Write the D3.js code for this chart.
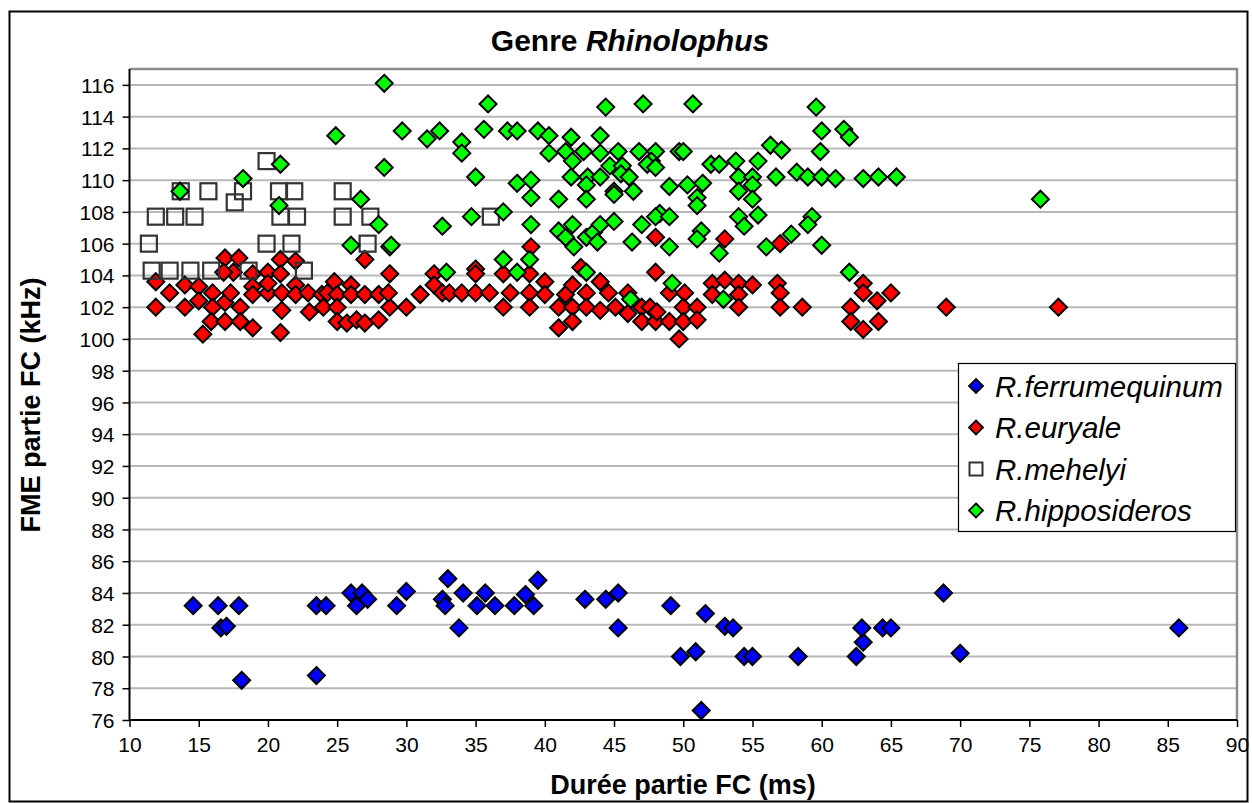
<!DOCTYPE html>
<html><head><meta charset="utf-8">
<script src="https://cdn.jsdelivr.net/npm/d3@7"></script>
<style>
body{margin:0;background:#fff}
svg{display:block}
text{font-family:"Liberation Sans",Arial,Helvetica,sans-serif}
</style>
</head><body>
<svg id="chart" width="1252" height="803"></svg>
<script>
// ---- data (x = Durée partie FC (ms), y = FME partie FC (kHz)) ----
const xTicks = [10,15,20,25,30,35,40,45,50,55,60,65,70,75,80,85,90];
const yTicks = [76,78,80,82,84,86,88,90,92,94,96,98,100,102,104,106,108,110,112,114,116];
const seriesNames = ["R.ferrumequinum","R.euryale","R.mehelyi","R.hipposideros"];

const ferrumequinum = [
 [14.6,83.2],[16.4,83.2],[16.6,81.8],[17.0,81.9],[17.9,83.2],[18.1,78.5],
 [23.5,83.2],[23.5,78.8],[24.2,83.2],[26.0,84.0],[26.4,83.2],[26.8,84.0],[27.2,83.6],
 [29.3,83.2],[30.0,84.1],[32.6,83.6],[32.8,83.2],[33.0,84.9],[33.8,81.8],[34.1,84.0],
 [35.1,83.2],[35.7,84.0],[36.4,83.2],[37.8,83.2],[38.6,83.9],[39.2,83.2],[39.5,84.8],
 [42.9,83.6],[44.4,83.6],[45.3,84.0],[45.3,81.8],
 [49.1,83.2],[49.8,80.0],[50.9,80.3],[51.6,82.7],[51.3,76.6],[53.0,81.9],[53.6,81.8],
 [54.4,80.0],[55.0,80.0],[58.3,80.0],[62.5,80.0],[63.0,80.9],[62.9,81.8],[64.4,81.8],
 [65.0,81.8],[68.8,84.0],[70.0,80.2],[85.8,81.8]
];

const euryale = [
 [16.9,105.1],[17.9,105.1],[17.5,104.2],[16.8,104.2],[18.9,104.1],[20.0,104.2],[20.9,105.0],
 [20.9,104.1],[22.0,104.9],[27.0,105.0],
 [11.9,103.6],[11.9,102.0],[12.9,102.9],[14.0,103.4],[14.0,102.0],[15.0,103.3],[15.0,102.4],
 [15.3,100.3],[16.0,102.9],[16.0,102.0],[15.9,101.1],[16.9,102.3],[17.3,102.9],[16.9,101.1],
 [18.0,102.0],[18.0,101.1],[18.9,100.7],[18.9,103.3],[18.9,102.8],[20.0,102.9],[20.0,103.5],
 [21.0,102.9],[21.0,101.8],[20.9,100.4],[22.0,103.4],[22.0,102.8],[22.9,102.9],[23.0,101.7],
 [23.9,102.8],[24.0,102.0],[24.3,102.9],[24.8,103.6],[25.0,102.8],[25.0,102.0],[25.0,101.1],
 [25.7,101.0],[26.0,103.4],[26.0,102.8],[26.4,101.2],[27.0,101.0],[27.0,102.8],[28.0,101.2],
 [28.0,102.8],[28.8,102.0],[28.7,102.9],[28.8,104.1],
 [30.0,102.0],[31.0,102.8],[32.0,104.1],[32.0,103.4],[32.6,102.9],[33.1,102.9],[34.0,102.9],
 [35.0,104.4],[35.0,104.1],[35.0,102.9],[36.0,102.9],[37.0,104.1],[37.5,102.9],[37.0,102.0],
 [38.9,104.1],[38.9,102.9],[38.9,102.0],[39.0,105.8],[40.0,103.6],[40.0,102.8],[41.0,102.0],
 [41.0,100.7],[41.5,102.8],[42.0,103.4],[42.0,102.0],[42.0,101.1],[42.6,104.5],[43.0,102.9],
 [43.0,102.0],[44.0,103.6],[44.0,101.8],[44.6,102.9],[45.1,102.0],[46.0,102.9],[46.0,101.6],
 [47.0,102.0],[47.0,101.1],[47.6,102.0],[48.0,101.1],[48.0,104.2],[48.0,106.4],[48.1,101.7],
 [49.0,101.1],[49.0,102.9],[49.7,100.0],
 [50.1,102.9],[50.0,102.0],[50.0,101.1],[51.0,102.0],[51.0,101.2],[52.1,103.5],[52.1,102.8],
 [53.0,103.7],[53.0,106.3],[54.0,103.5],[54.0,102.8],[54.0,102.0],[55.0,103.4],[56.8,103.5],
 [57.0,102.9],[57.0,102.0],[57.0,106.0],[58.6,102.0],[62.1,102.0],[62.1,101.1],[63.0,103.5],
 [63.0,102.9],[63.0,100.6],[64.0,102.4],[64.1,101.1],[65.0,102.9],[69.0,102.0],[77.1,102.0]
];

const mehelyi = [
 [11.4,106.0],[11.6,104.3],[11.9,107.7],[12.9,104.3],[13.3,107.7],[13.7,109.3],[14.4,104.3],
 [14.7,107.7],[15.7,109.3],[15.9,104.3],[17.6,108.6],[18.2,109.3],[18.6,104.3],[19.9,111.2],
 [19.9,106.0],[20.8,109.3],[20.9,107.7],[21.9,109.3],[21.7,106.0],[22.1,107.7],[22.6,104.3],
 [25.4,109.3],[25.4,107.7],[27.4,107.7],[27.2,106.0],[36.1,107.7]
];

const hipposideros = [
 [13.65,109.3],[18.2,110.1],[20.9,111.0],[20.8,108.4],[24.9,112.8],[28.4,116.1],[28.4,110.8],
 [26.7,108.8],[28.0,107.2],[26.0,105.9],[28.8,105.8],
 [35.9,114.8],[44.4,114.6],[47.1,114.8],[29.7,113.1],[31.5,112.6],[32.4,113.1],[34.0,112.4],
 [34.0,111.7],[35.6,113.2],[37.3,113.1],[38.0,113.1],[39.5,113.1],[40.3,112.8],[40.3,111.7],
 [41.9,112.7],[41.5,111.8],[42.0,111.2],[42.8,111.8],[44.0,112.8],[44.0,111.7],[45.3,111.8],
 [46.8,111.8],[48.0,111.8],[47.7,111.2],[47.4,111.0],[48.0,110.8],[49.7,111.8],[44.7,110.9],
 [45.6,110.9],[45.5,110.4],[46.1,110.2],[41.9,110.2],[43.1,110.2],[44.0,110.2],[43.0,109.7],
 [35.0,110.2],[38.0,109.8],[39.0,110.0],[39.0,108.9],[41.0,108.8],[43.0,108.8],[45.0,109.3],
 [45.0,109.1],[46.4,109.3],[49.0,109.6],[34.7,107.7],[37.0,108.0],[32.6,107.1],[28.9,105.9],
 [39.0,107.2],[41.0,106.8],[42.0,107.2],[41.5,106.4],[42.1,105.8],[43.0,106.4],[43.5,106.7],
 [43.8,106.1],[44.0,107.2],[45.0,107.4],[46.3,106.1],[47.0,107.2],[48.3,107.9],[48.0,107.7],
 [49.0,105.8],[37.0,105.0],[38.9,105.0],[38.0,104.2],[32.9,104.2],[43.0,104.2],[49.2,103.5],
 [46.2,102.5],[52.9,102.5],[62.0,104.2],
 [50.7,114.8],[59.6,114.6],[60.0,113.1],[61.6,113.2],[62.0,112.7],[50.0,111.8],[56.3,112.2],
 [57.1,111.9],[59.9,111.8],[52.0,111.0],[52.6,111.0],[53.8,111.2],[55.4,111.2],[54.0,110.2],
 [55.0,110.2],[56.7,110.2],[58.2,110.5],[59.0,110.2],[60.0,110.2],[61.0,110.1],[63.0,110.1],
 [64.1,110.2],[65.4,110.2],[50.3,109.7],[51.4,109.8],[54.0,109.3],[55.0,109.7],[51.0,108.9],
 [51.0,108.4],[55.0,108.8],[49.0,107.7],[54.0,107.7],[54.4,107.1],[55.4,107.8],[59.3,107.7],
 [59.0,107.2],[51.3,106.8],[51.0,106.3],[52.6,105.4],[56.0,105.8],[57.8,106.6],[60.0,105.9],
 [75.8,108.8]
];

// ---- layout ----
const svg = d3.select("#chart");
const P = {left:129.5, right:1237, top:69, bottom:720};
const x = d3.scaleLinear().domain([10,90]).range([P.left, P.right]);
const y = d3.scaleLinear().domain([76,117]).range([P.bottom, P.top]);

// outer frame
svg.append("rect").attr("x",9.5).attr("y",11.5).attr("width",1238).attr("height",790)
  .attr("fill","#fff").attr("stroke","#000").attr("stroke-width",2);

// gridlines
svg.append("g").selectAll("line").data(yTicks.filter(d=>d>76)).join("line")
  .attr("x1",P.left).attr("x2",P.right).attr("y1",d=>y(d)).attr("y2",d=>y(d))
  .attr("stroke","#b8b8b8").attr("stroke-width",2);

// plot border (top/right)
svg.append("path").attr("d",`M${P.left},${P.top}H${P.right}V${P.bottom}`)
  .attr("fill","none").attr("stroke","#8c8c8c").attr("stroke-width",2.5);

// axes
const gx = svg.append("g").attr("transform",`translate(0,${P.bottom})`)
  .call(d3.axisBottom(x).tickValues(xTicks).tickSize(7).tickPadding(10).tickFormat(d3.format("d")));
const gy = svg.append("g").attr("transform",`translate(${P.left},0)`)
  .call(d3.axisLeft(y).tickValues(yTicks).tickSize(7).tickPadding(8).tickFormat(d3.format("d")));
[gx,gy].forEach(g=>{
  g.select(".domain").attr("stroke","#000").attr("stroke-width",2);
  g.selectAll(".tick line").attr("stroke","#000").attr("stroke-width",1.5);
  g.selectAll(".tick text").attr("fill","#000").style("font-size","21px")
    .style("font-family",'"Liberation Sans",Arial,sans-serif');
});
gx.select(".domain").attr("d",`M${P.left},0H${P.right}`);
gy.select(".domain").attr("d",`M0,${P.top}V${P.bottom}`);
gy.selectAll(".tick text").attr("dy","0.36em");

// markers
const diamond = (s)=>`M0,${-s}L${s},0L0,${s}L${-s},0Z`;
function drawDiamonds(data, color){
  svg.append("g").selectAll("path").data(data).join("path")
    .attr("transform",d=>`translate(${x(d[0])},${y(d[1])})`)
    .attr("d",diamond(8.5)).attr("fill",color).attr("stroke","#000").attr("stroke-width",2);
}
drawDiamonds(ferrumequinum,"#0000ff");
drawDiamonds(euryale,"#ff0000");
svg.append("g").selectAll("rect").data(mehelyi).join("rect")
  .attr("x",d=>x(d[0])-8).attr("y",d=>y(d[1])-8).attr("width",16).attr("height",16)
  .attr("fill","none").attr("stroke","#333").attr("stroke-width",2.2);
drawDiamonds(hipposideros,"#00ff00");

// title
const title = svg.append("text").attr("x",630).attr("y",51).attr("text-anchor","middle")
  .style("font-size","30px").style("font-weight","bold");
title.append("tspan").text("Genre ");
title.append("tspan").style("font-style","italic").text("Rhinolophus");

// axis titles
svg.append("text").attr("x",683).attr("y",794).attr("text-anchor","middle")
  .style("font-size","27px").style("font-weight","bold").text("Durée partie FC (ms)");
svg.append("text").attr("transform","translate(40,405) rotate(-90)").attr("text-anchor","middle")
  .style("font-size","27px").style("font-weight","bold").text("FME partie FC (kHz)");

// legend
const L = {x:958, y:363, w:277, h:168};
svg.append("rect").attr("x",L.x+0.5).attr("y",L.y+0.5).attr("width",L.w).attr("height",L.h)
  .attr("fill","#fff").attr("stroke","#000").attr("stroke-width",1.2);
const colors = ["#0000ff","#ff0000",null,"#00ff00"];
const lg = svg.append("g").selectAll("g").data(seriesNames).join("g")
  .attr("transform",(d,i)=>`translate(${L.x+18},${L.y+23+i*41.5})`);
lg.each(function(d,i){
  const g = d3.select(this);
  if(colors[i]) g.append("path").attr("d",diamond(7)).attr("fill",colors[i]).attr("stroke","#000").attr("stroke-width",1.8);
  else g.append("rect").attr("x",-6.5).attr("y",-6.5).attr("width",13).attr("height",13).attr("fill","none").attr("stroke","#333").attr("stroke-width",2);
  g.append("text").attr("x",19).attr("dy","0.36em").style("font-size","29.5px").style("font-style","italic").text(d);
});
</script>
</body></html>
